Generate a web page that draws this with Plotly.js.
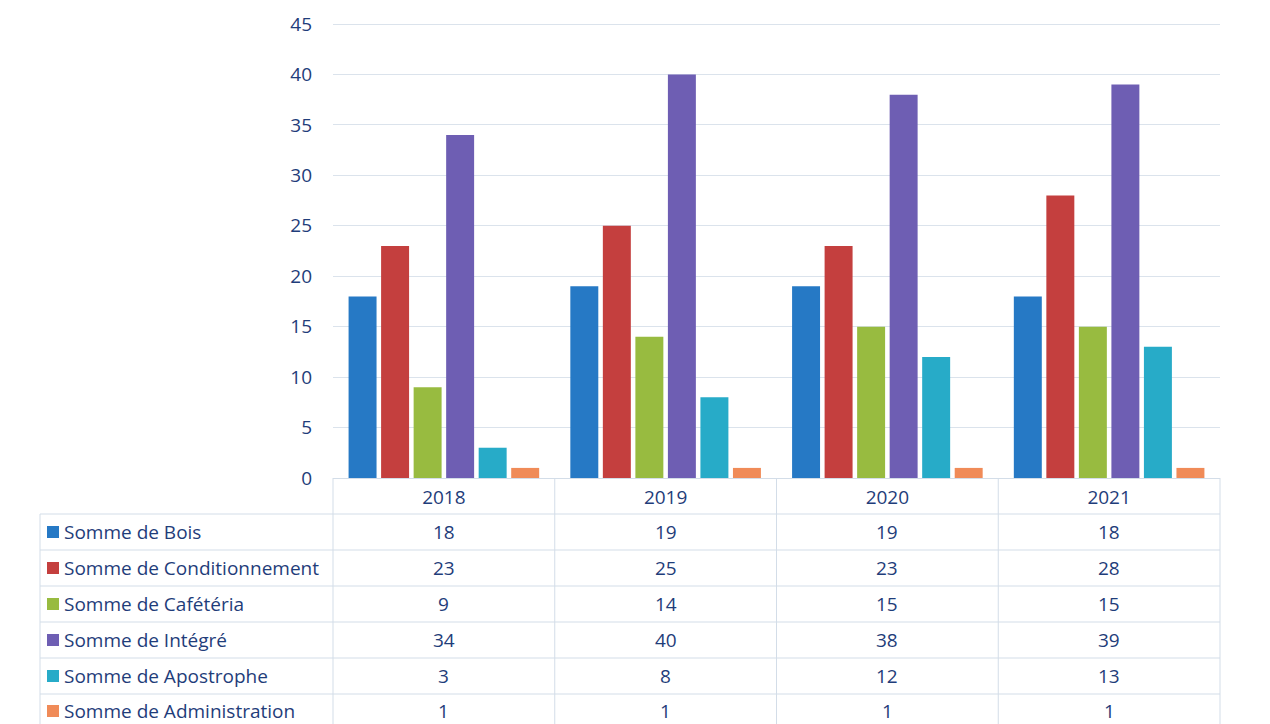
<!DOCTYPE html>
<html>
<head>
<meta charset="utf-8">
<script src="https://cdn.plot.ly/plotly-3.0.1.min.js"></script>
<style>html,body{margin:0;padding:0;background:#fff;}#chart{width:1270px;height:724px;}</style>
</head>
<body>
<div id="chart"></div>
<script>
const years = ['2018', '2019', '2020', '2021'];
const seriesNames = ['Somme de Bois', 'Somme de Conditionnement', 'Somme de Cafétéria', 'Somme de Intégré', 'Somme de Apostrophe', 'Somme de Administration'];
const bois = [18, 19, 19, 18];
const conditionnement = [23, 25, 23, 28];
const cafeteria = [9, 14, 15, 15];
const integre = [34, 40, 38, 39];
const apostrophe = [3, 8, 12, 13];
const administration = [1, 1, 1, 1];
const yTicks = [0, 5, 10, 15, 20, 25, 30, 35, 40, 45];

const seriesValues = [bois, conditionnement, cafeteria, integre, apostrophe, administration];
const colors = ['#2679c5', '#c43f3e', '#98bb40', '#6e5eb3', '#27abc8', '#f08b58'];
const textColor = '#1f3d7a';
const lineColor = '#d3dde8';
const FONT = 'Open Sans, Noto Sans, sans-serif';

// geometry (pixels)
const W = 1270, H = 724;
const L = 333, R = 1220, T = 23, B = 478;
const px2x = p => (p - L) / (R - L);
const px2y = p => (B - p) / (B - T);

const traces = seriesNames.map((n, i) => ({
  type: 'bar', name: n, x: years, y: seriesValues[i],
  marker: { color: colors[i], line: { width: 0 } },
  hoverinfo: 'name+x+y'
}));

const shapes = [];
const annotations = [];
const rowLines = [514, 550, 586, 622, 658, 694];
const rowCenters = [532, 568, 604, 640, 676, 711];
rowLines.forEach(y => {
  shapes.push({ type: 'line', xref: 'paper', yref: 'paper', x0: px2x(40), x1: 1, y0: px2y(y), y1: px2y(y), line: { color: lineColor, width: 1 } });
});
[0, 0.25, 0.5, 0.75, 1].forEach(xp => {
  shapes.push({ type: 'line', xref: 'paper', yref: 'paper', x0: xp, x1: xp, y0: 0, y1: px2y(H + 2), line: { color: lineColor, width: 1 } });
});
shapes.push({ type: 'line', xref: 'paper', yref: 'paper', x0: px2x(40), x1: px2x(40), y0: px2y(514), y1: px2y(H + 2), line: { color: lineColor, width: 1 } });

seriesNames.forEach((n, i) => {
  const cy = rowCenters[i];
  shapes.push({ type: 'rect', xref: 'paper', yref: 'paper', x0: px2x(47), x1: px2x(59), y0: px2y(cy - 6), y1: px2y(cy + 6), fillcolor: colors[i], line: { width: 0 } });
  annotations.push({ xref: 'paper', yref: 'paper', x: px2x(62), y: px2y(cy), xanchor: 'left', yanchor: 'middle', showarrow: false, text: n, font: { family: FONT, size: 19, color: textColor } });
  seriesValues[i].forEach((v, j) => {
    annotations.push({ xref: 'x', yref: 'paper', x: j, y: px2y(cy), xanchor: 'center', yanchor: 'middle', showarrow: false, text: String(v), font: { family: FONT, size: 19, color: textColor } });
  });
});

const layout = {
  width: W, height: H,
  margin: { l: L, r: W - R, t: T, b: H - B, pad: 0 },
  paper_bgcolor: '#ffffff', plot_bgcolor: '#ffffff',
  showlegend: false,
  barmode: 'group', bargap: 0.12, bargroupgap: 0.14,
  font: { family: FONT, color: textColor },
  xaxis: {
    type: 'category', range: [-0.5, 3.5], autorange: false, showgrid: false, zeroline: false,
    showline: true, linecolor: lineColor, linewidth: 1,
    ticks: '', ticklabelstandoff: 2,
    tickfont: { family: FONT, size: 19, color: textColor }
  },
  yaxis: {
    range: [0, 45.1], autorange: false, tickvals: yTicks, showgrid: true, gridcolor: '#dbe3ec', gridwidth: 1,
    zeroline: false, showline: false, ticks: '', ticklabelstandoff: 20,
    tickfont: { family: FONT, size: 19, color: textColor }
  },
  shapes: shapes,
  annotations: annotations
};

Plotly.newPlot('chart', traces, layout, { displayModeBar: false, staticPlot: true });
</script>
</body>
</html>
